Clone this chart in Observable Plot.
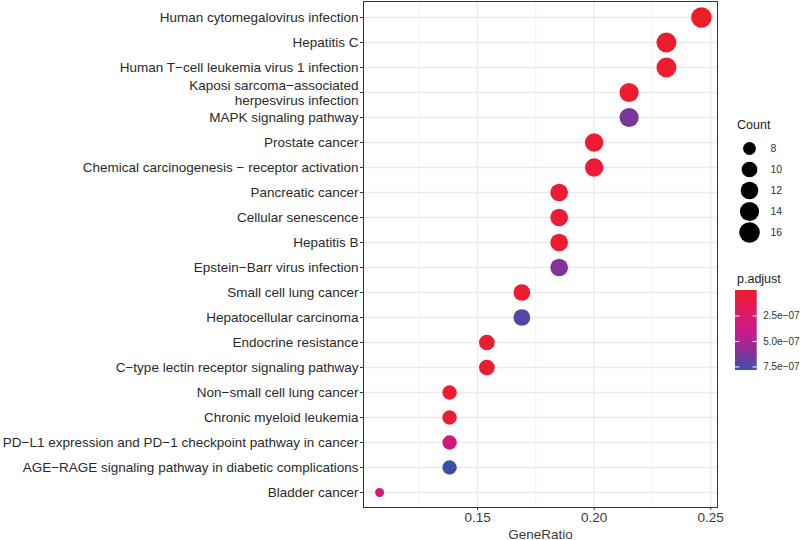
<!DOCTYPE html>
<html><head><meta charset="utf-8">
<script src="https://cdn.jsdelivr.net/npm/d3@7"></script>
<script src="https://cdn.jsdelivr.net/npm/@observablehq/plot@0.6"></script>
<style>
html,body{margin:0;padding:0;background:#fff;}
#wrap{position:relative;width:800px;height:540px;font-family:"Liberation Sans",Arial,sans-serif;overflow:hidden;}
#wrap svg{position:absolute;}
.ltitle{position:absolute;font-size:12.5px;color:#1a1a1a;line-height:1;}
</style></head><body><div id="wrap"></div>
<script>
const categories = [
  "Human cytomegalovirus infection",
  "Hepatitis C",
  "Human T\u2212cell leukemia virus 1 infection",
  "Kaposi sarcoma\u2212associated\nherpesvirus infection",
  "MAPK signaling pathway",
  "Prostate cancer",
  "Chemical carcinogenesis \u2212 receptor activation",
  "Pancreatic cancer",
  "Cellular senescence",
  "Hepatitis B",
  "Epstein\u2212Barr virus infection",
  "Small cell lung cancer",
  "Hepatocellular carcinoma",
  "Endocrine resistance",
  "C\u2212type lectin receptor signaling pathway",
  "Non\u2212small cell lung cancer",
  "Chronic myeloid leukemia",
  "PD\u2212L1 expression and PD\u22121 checkpoint pathway in cancer",
  "AGE\u2212RAGE signaling pathway in diabetic complications",
  "Bladder cancer"
];
const geneRatio = [0.246, 0.231, 0.231, 0.215, 0.215, 0.200, 0.200, 0.185, 0.185, 0.185,
                   0.185, 0.169, 0.169, 0.154, 0.154, 0.138, 0.138, 0.138, 0.138, 0.108];
const counts = [16, 15, 15, 14, 14, 13, 13, 12, 12, 12, 12, 11, 11, 10, 10, 9, 9, 9, 9, 7];
const pAdjust = [1e-9, 2e-9, 3e-9, 1.2e-8, 6.4e-7, 1.5e-8, 5e-8, 3e-8, 3e-8, 2.5e-8,
                 6.1e-7, 2.5e-8, 7.4e-7, 3.5e-8, 3.5e-8, 3e-8, 3.5e-8, 3.4e-7, 7.85e-7, 3.6e-7];
const xTicks = [0.15, 0.20, 0.25];
const xMinorTicks = [0.125, 0.175, 0.225];
const countBreaks = [8, 10, 12, 14, 16];
const pBreaks = [2.5e-7, 5e-7, 7.5e-7];
const colorStops = ["#EE1C2B", "#E41A62", "#CD1A86", "#8E2E98", "#3D50A8"];

const data = categories.map((c, i) => ({term: c, ratio: geneRatio[i], count: counts[i], p: pAdjust[i]}));
const font = '"Liberation Sans", Arial, sans-serif';
const ext = d3.extent(geneRatio);
const pad = (ext[1] - ext[0]) * 0.05;
const cMin = d3.min(counts), cMax = d3.max(counts);
const pMin = d3.min(pAdjust), pMax = d3.max(pAdjust);
const rOpts = {type: "linear", transform: c => Math.sqrt((c - cMin) / (cMax - cMin)), domain: [0, 1], range: [4.5, 10.3]};
const colorInterp = d3.piecewise(d3.interpolateRgb, colorStops);
const colorOpts = {type: "linear", domain: [pMin, pMax], interpolate: t => colorInterp(t)};
const gridCol = "#ebebeb";

const wrap = document.getElementById("wrap");

const chart = Plot.plot({
  width: 800, height: 540,
  marginLeft: 363, marginRight: 83, marginTop: 1, marginBottom: 33,
  style: {fontFamily: font, fontSize: "13.5px", color: "#333", background: "white"},
  x: {domain: [ext[0] - pad, ext[1] + pad]},
  y: {type: "point", domain: categories, padding: 0.6},
  r: rOpts,
  color: colorOpts,
  marks: [
    Plot.gridX(xMinorTicks, {stroke: gridCol, strokeOpacity: 1, strokeWidth: 0.8}),
    Plot.gridX(xTicks, {stroke: gridCol, strokeOpacity: 1, strokeWidth: 1.3}),
    Plot.gridY(categories, {stroke: gridCol, strokeOpacity: 1, strokeWidth: 1.3}),
    Plot.dot(data, {x: "ratio", y: "term", r: "count", fill: "p"}),
    Plot.frame({stroke: "#333", strokeWidth: 1}),
    Plot.axisX(xTicks, {tickSize: 3, tickPadding: 2, tickFormat: d => d.toFixed(2), fill: "#3a3a3a",
      label: "GeneRatio", labelAnchor: "center", labelOffset: 31, labelArrow: "none"}),
    Plot.axisY({tickSize: 3, tickPadding: 2, label: null, fill: "#2a2a2a", lineHeight: 1.09})
  ]
});
chart.style.left = "0px"; chart.style.top = "0px";
wrap.appendChild(chart);

// Count legend
const countLegend = Plot.plot({
  width: 80, height: 140, marginLeft: 0, marginRight: 0, marginTop: 0, marginBottom: 0,
  style: {fontFamily: font, fontSize: "10.5px", color: "#333", background: "transparent", overflow: "visible"},
  x: {domain: [0, 1], range: [29, 50], axis: null},
  y: {type: "point", domain: countBreaks, range: [36.7, 124], padding: 0, axis: null},
  r: rOpts,
  marks: [
    Plot.dot(countBreaks, {x: () => 0, y: d => d, r: d => d, fill: "black"}),
    Plot.text(countBreaks, {x: () => 1, y: d => d, text: d => String(d), textAnchor: "start", fill: "#333"})
  ]
});
countLegend.style.left = "720px"; countLegend.style.top = "110px";
wrap.appendChild(countLegend);

// Color legend
let colorFn;
try { colorFn = chart.scale("color").apply; } catch (e) {}
if (typeof colorFn !== "function") {
  colorFn = v => colorInterp((v - pMin) / (pMax - pMin));
}
const fmtSci = v => {
  const [m, e] = v.toExponential(1).split("e");
  const n = +e;
  return m + "e" + (n < 0 ? "\u2212" : "+") + String(Math.abs(n)).padStart(2, "0");
};
const colorLegend = Plot.plot({
  width: 80, height: 110, marginLeft: 0, marginRight: 0, marginTop: 0, marginBottom: 0,
  style: {fontFamily: font, fontSize: "10px", color: "#333", background: "transparent", overflow: "visible"},
  x: {domain: [0, 1], range: [15, 36.7], axis: null},
  y: {domain: [pMin, pMax], range: [20, 100], axis: null},
  marks: [
    Plot.rect([0], {x1: 0, x2: 1, y1: pMin, y2: pMax, fill: "url(#pgrad)"}),
    Plot.ruleY(pBreaks, {x1: 0, x2: 0.2, stroke: "white", strokeWidth: 1}),
    Plot.ruleY(pBreaks, {x1: 0.8, x2: 1, stroke: "white", strokeWidth: 1}),
    Plot.text(pBreaks, {x: 1, y: d => d, dx: 6, textAnchor: "start", text: fmtSci, fill: "#333"})
  ]
});
const ns = "http://www.w3.org/2000/svg";
const defs = document.createElementNS(ns, "defs");
const grad = document.createElementNS(ns, "linearGradient");
grad.setAttribute("id", "pgrad");
grad.setAttribute("x1", "0"); grad.setAttribute("y1", "0");
grad.setAttribute("x2", "0"); grad.setAttribute("y2", "1");
for (let i = 0; i <= 20; i++) {
  const t = i / 20;
  const stop = document.createElementNS(ns, "stop");
  stop.setAttribute("offset", t);
  stop.setAttribute("stop-color", colorFn(pMin + t * (pMax - pMin)));
  grad.appendChild(stop);
}
defs.appendChild(grad);
colorLegend.insertBefore(defs, colorLegend.firstChild);
colorLegend.style.left = "720px"; colorLegend.style.top = "270px";
wrap.appendChild(colorLegend);

// Legend titles
const t1 = document.createElement("div");
t1.className = "ltitle"; t1.textContent = "Count";
t1.style.left = "737px"; t1.style.top = "119px";
wrap.appendChild(t1);
const t2 = document.createElement("div");
t2.className = "ltitle"; t2.textContent = "p.adjust";
t2.style.left = "737px"; t2.style.top = "273px";
wrap.appendChild(t2);
</script>
</body></html>
